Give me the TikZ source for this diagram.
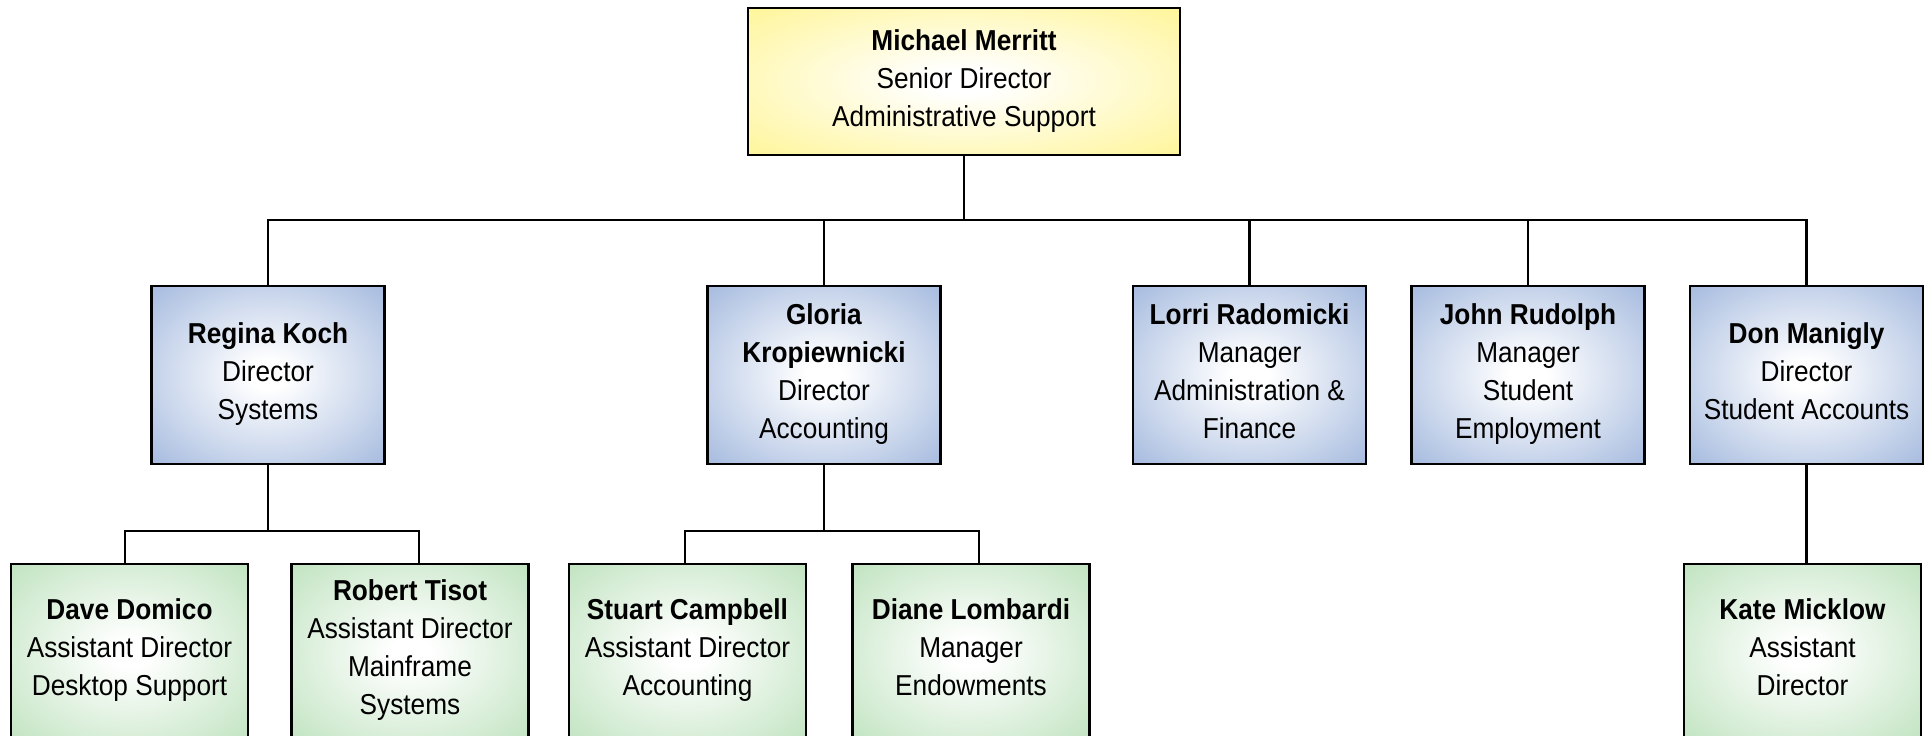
\documentclass[tikz,border=0pt]{standalone}
\usepackage{fontspec}
\setmainfont[FakeStretch=0.91]{Liberation Sans}
\definecolor{bossyellow}{RGB}{255,242,120}
\definecolor{headblue}{RGB}{136,164,212}
\definecolor{staffgreen}{RGB}{172,218,172}
\pgfdeclareradialshading{yellowglow}{\pgfpoint{0bp}{0bp}}{color(0bp)=(white);color(4bp)=(white);color(46bp)=(bossyellow);color(72bp)=(bossyellow)}
\pgfdeclareradialshading{blueglow}{\pgfpoint{0bp}{0bp}}{color(0bp)=(white);color(4bp)=(white);color(46bp)=(headblue);color(72bp)=(headblue)}
\pgfdeclareradialshading{greenglow}{\pgfpoint{0bp}{0bp}}{color(0bp)=(white);color(4bp)=(white);color(46bp)=(staffgreen);color(72bp)=(staffgreen)}

\begin{document}
\begin{tikzpicture}[x=0.02cm,y=-0.02cm,
card/.style={draw=black,line width=1.4pt,shade,align=center,inner sep=0pt,
    font=\fontsize{16.4}{21.6}\selectfont},
chief/.style={card,shading=yellowglow,minimum width=8.64cm,minimum height=2.94cm},
head/.style={card,shading=blueglow,minimum width=4.66cm,minimum height=3.56cm,
    execute at end node={\rule[-4.5pt]{0pt}{0pt}}},
staff/.style={card,shading=greenglow,minimum width=4.74cm,minimum height=3.56cm,
    execute at end node=\strut},
link/.style={line width=1.4pt}]
\useasboundingbox (0,0) rectangle (1932,736);

\node (merritt) [chief] at (964,81.5) {\textbf{Michael Merritt}\\Senior Director\\Administrative Support};

% directors and managers
\node (koch) [head] at (268,375) {\textbf{Regina Koch}\\Director\\Systems};
\node (kropiewnicki) [head] at (824,375) {\textbf{Gloria}\\\textbf{Kropiewnicki}\\Director\\Accounting};
\node (radomicki) [head] at (1249.5,375) {\textbf{Lorri Radomicki}\\Manager\\Administration \&\\Finance};
\node (rudolph) [head] at (1528,375) {\textbf{John Rudolph}\\Manager\\Student\\Employment};
\node (manigly) [head] at (1806.5,375) {\textbf{Don Manigly}\\Director\\Student Accounts};

% assistants
\node (domico) [staff] at (129.5,653) {\textbf{Dave Domico}\\Assistant Director\\Desktop Support};
\node (tisot) [staff] at (410,653) {\textbf{Robert Tisot}\\Assistant Director\\Mainframe\\Systems};
\node (campbell) [staff] at (687.5,653) {\textbf{Stuart Campbell}\\Assistant Director\\Accounting};
\node (lombardi) [staff] at (971,653) {\textbf{Diane Lombardi}\\Manager\\Endowments};
\node (micklow) [staff] at (1802.5,653) {\textbf{Kate Micklow}\\Assistant\\Director};

\path (merritt.south) ++(0,64) coordinate (bus);
\path (koch.south) ++(0,66) coordinate (kochbus);
\path (kropiewnicki.south) ++(0,66) coordinate (glbus);

\draw[link] (merritt.south) -- (bus);
\foreach \n in {koch,kropiewnicki,radomicki,rudolph,manigly}
    \draw[link] (\n.north) |- (bus);
\draw[link] (koch.south) -- (kochbus);
\draw[link] ([xshift=-0.09cm]domico.north) |- (kochbus);
\draw[link] ([xshift=0.18cm]tisot.north) |- (kochbus);
\draw[link] (kropiewnicki.south) -- (glbus);
\draw[link] ([xshift=-0.05cm]campbell.north) |- (glbus);
\draw[link] ([xshift=0.16cm]lombardi.north) |- (glbus);
\draw[link] (manigly.south) -- (manigly.south |- micklow.north);
\end{tikzpicture}
\end{document}
